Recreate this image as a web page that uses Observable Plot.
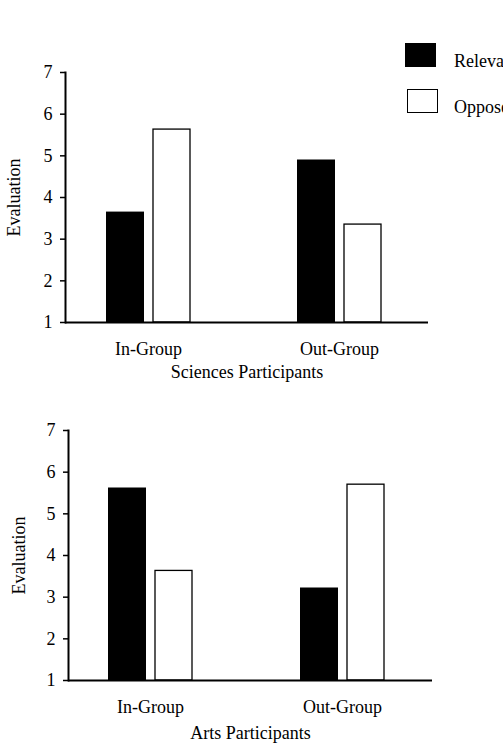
<!DOCTYPE html>
<html><head><meta charset="utf-8">
<script src="https://cdn.jsdelivr.net/npm/d3@7"></script>
<script src="https://cdn.jsdelivr.net/npm/@observablehq/plot@0.6"></script>
<style>
body{margin:0;width:503px;height:754px;overflow:hidden;position:relative;background:#fff;font-family:"Liberation Serif","Times New Roman",serif;}
svg{display:block}
.sw{position:absolute;width:31px;height:24px;box-sizing:border-box}
.lt{position:absolute;font-size:18px;line-height:18px;white-space:nowrap;color:#000}
</style></head><body>
<div id="top"></div><div id="bottom"></div>
<div class="sw" style="left:405px;top:43px;background:#000"></div>
<div class="sw" style="left:407px;top:89px;background:#fff;border:1.3px solid #000"></div>
<div class="lt" id="l0" style="left:454px;top:52px"></div>
<div class="lt" id="l1" style="left:454px;top:98px"></div>
<script>
const groups = ["In-Group", "Out-Group"];
const series = ["Relevant", "Opposed"];
const sciencesRelevant = [3.65, 4.9];
const sciencesOpposed = [5.63, 3.35];
const artsRelevant = [5.62, 3.22];
const artsOpposed = [3.63, 5.70];
const yTicks = [1, 2, 3, 4, 5, 6, 7];
const baseline = 1;

document.getElementById("l0").textContent = series[0];
document.getElementById("l1").textContent = series[1];

function chart(rel, opp, xLabel, o) {
  const rows = groups.flatMap((g, i) => [
    {group: g, series: series[0], value: rel[i]},
    {group: g, series: series[1], value: opp[i]}
  ]);
  return Plot.plot({
    width: 503, height: o.height,
    marginTop: o.marginTop, marginBottom: o.marginBottom,
    marginLeft: o.marginLeft, marginRight: o.marginRight,
    style: {fontFamily: '"Liberation Serif","Times New Roman",serif', fontSize: "18px", color: "black", background: "white"},
    x: {domain: groups, paddingInner: 0.5625, paddingOuter: 0.2266, align: 0.46},
    y: {domain: [1, 7]},
    marks: [
      Plot.barY(rows.filter(d => d.series === series[0]), {x: "group", y1: baseline, y2: "value", fill: "black", insetRight: 46}),
      Plot.barY(rows.filter(d => d.series === series[1]), {x: "group", y1: baseline, y2: "value", fill: "white", stroke: "black", strokeWidth: 1.3, insetLeft: 47}),
      Plot.axisY({ticks: yTicks, tickSize: 5, tickPadding: 8, tickFormat: d3.format("d"), label: "Evaluation", labelAnchor: "center", labelOffset: o.yLabelOffset, labelArrow: false, strokeWidth: 1.5}),
      Plot.axisX({tickSize: 0, tickPadding: 20, label: xLabel, labelAnchor: "center", labelOffset: o.xLabelOffset}),
      Plot.frame({anchor: "left", strokeWidth: 2}),
      Plot.ruleY([baseline], {strokeWidth: 2})
    ]
  });
}

document.getElementById("top").append(chart(sciencesRelevant, sciencesOpposed, "Sciences Participants",
  {height: 395, marginTop: 72, marginBottom: 73, marginLeft: 65, marginRight: 75, yLabelOffset: 58, xLabelOffset: 55}));
document.getElementById("bottom").append(chart(artsRelevant, artsOpposed, "Arts Participants",
  {height: 359, marginTop: 35, marginBottom: 74, marginLeft: 68, marginRight: 71, yLabelOffset: 56, xLabelOffset: 58}));
</script>
</body></html>
